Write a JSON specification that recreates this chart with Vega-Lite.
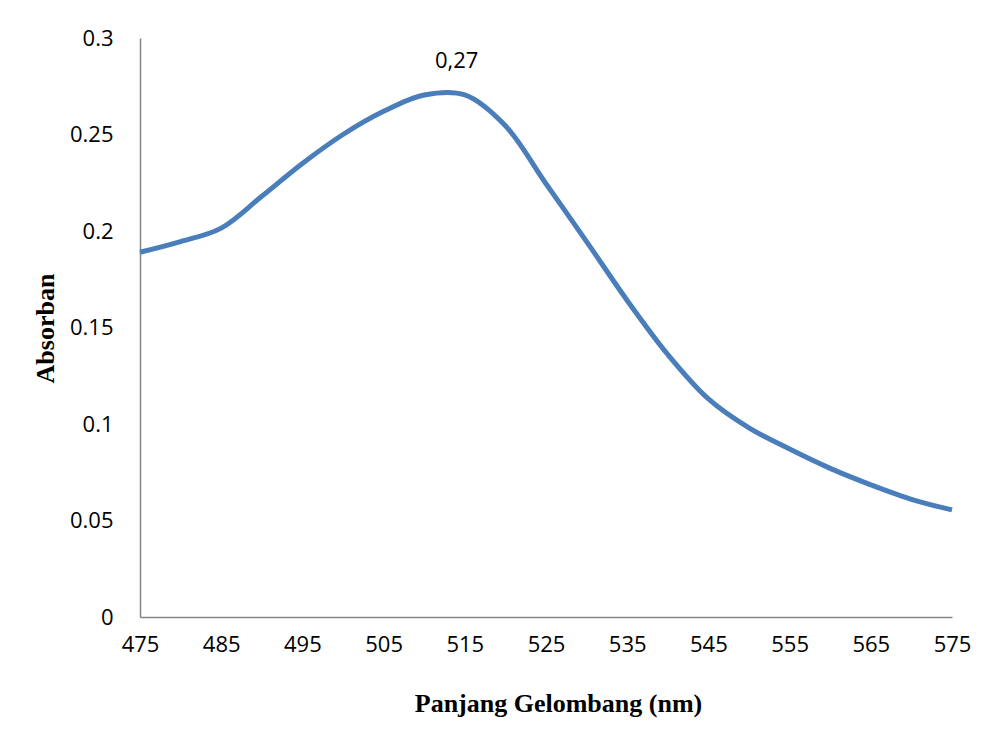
{
  "$schema": "https://vega.github.io/schema/vega-lite/v6.json",
  "width": 812,
  "height": 579,
  "autosize": "none",
  "padding": {"left": 140, "top": 38, "right": 32, "bottom": 121},
  "background": "white",
  "config": {"view": {"stroke": null}, "font": "Open Sans"},
  "layer": [
    {
      "data": {"values": [
        {"nm": 475, "abs": 0.189},
        {"nm": 480, "abs": 0.1945},
        {"nm": 485, "abs": 0.2015},
        {"nm": 490, "abs": 0.218},
        {"nm": 495, "abs": 0.235},
        {"nm": 500, "abs": 0.25},
        {"nm": 505, "abs": 0.262},
        {"nm": 510, "abs": 0.2705},
        {"nm": 515, "abs": 0.2705},
        {"nm": 520, "abs": 0.2545},
        {"nm": 525, "abs": 0.2245},
        {"nm": 530, "abs": 0.1945},
        {"nm": 535, "abs": 0.164},
        {"nm": 540, "abs": 0.136},
        {"nm": 545, "abs": 0.113},
        {"nm": 550, "abs": 0.098},
        {"nm": 555, "abs": 0.087},
        {"nm": 560, "abs": 0.077},
        {"nm": 565, "abs": 0.0685},
        {"nm": 570, "abs": 0.061},
        {"nm": 575, "abs": 0.0555}
      ]},
      "mark": {"type": "line", "interpolate": "catmull-rom", "color": "#4A7EBB", "strokeWidth": 5, "clip": false},
      "encoding": {
        "x": {
          "field": "nm", "type": "quantitative",
          "scale": {"domain": [475, 575], "nice": false, "zero": false},
          "axis": {
            "values": [475, 485, 495, 505, 515, 525, 535, 545, 555, 565, 575],
            "format": "d",
            "grid": false, "ticks": false,
            "domainColor": "#868686", "domainWidth": 1.5,
            "labelFont": "Open Sans", "labelFontSize": 22, "labelColor": "#000000",
            "labelPadding": 17, "labelFlush": false,
            "title": "Panjang Gelombang (nm)",
            "titleFont": "Liberation Serif", "titleFontSize": 26, "titleFontWeight": "bold", "titleColor": "#000000",
            "titleX": 418, "titleY": 86, "titleBaseline": "middle"
          }
        },
        "y": {
          "field": "abs", "type": "quantitative",
          "scale": {"domain": [0, 0.3], "nice": false},
          "axis": {
            "values": [0, 0.05, 0.1, 0.15, 0.2, 0.25, 0.3],
            "labelExpr": "format(datum.value, '~g')",
            "grid": false, "ticks": false,
            "domainColor": "#868686", "domainWidth": 1.5,
            "labelFont": "Open Sans", "labelFontSize": 22, "labelColor": "#000000",
            "labelPadding": 27, "labelFlush": false,
            "title": "Absorban",
            "titleFont": "Liberation Serif", "titleFontSize": 26, "titleFontWeight": "bold", "titleColor": "#000000",
            "titleX": -95, "titleY": 290, "titleAngle": -90, "titleBaseline": "middle"
          }
        }
      }
    },
    {
      "data": {"values": [{"nm": 514, "abs": 0.2715, "label": "0,27"}]},
      "mark": {"type": "text", "font": "Open Sans", "fontSize": 22, "color": "#000000", "dy": -32, "baseline": "middle", "align": "center"},
      "encoding": {
        "x": {"field": "nm", "type": "quantitative"},
        "y": {"field": "abs", "type": "quantitative"},
        "text": {"field": "label"}
      }
    }
  ]
}
